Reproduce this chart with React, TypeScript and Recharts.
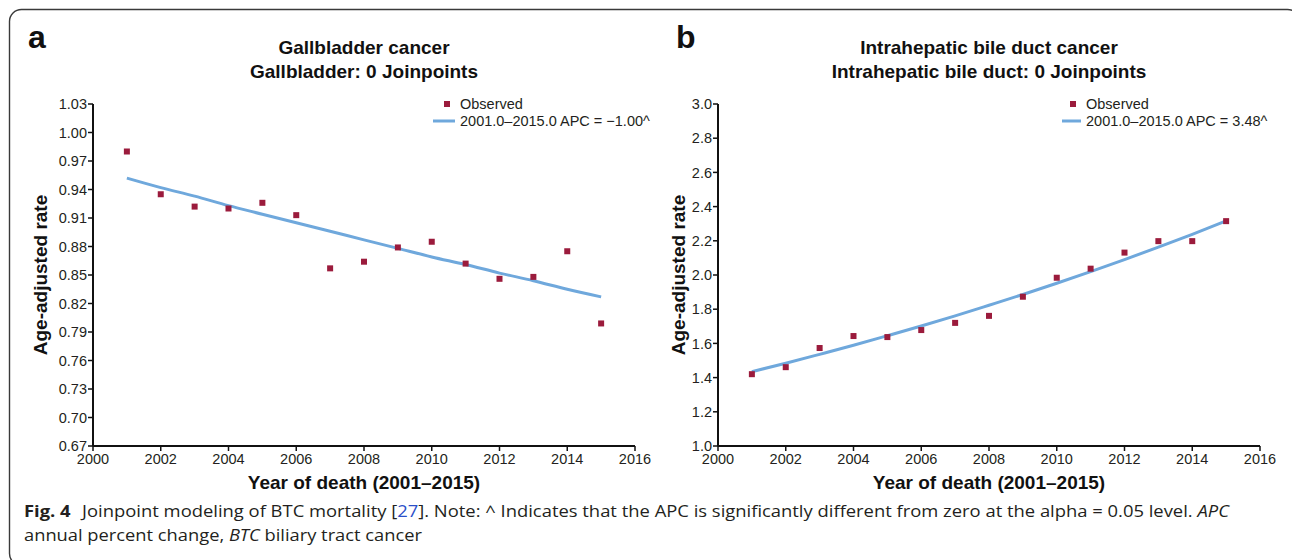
import React from "react";
import { ComposedChart, XAxis, YAxis, Line, Scatter, Legend } from "recharts";

const years = [2001, 2002, 2003, 2004, 2005, 2006, 2007, 2008, 2009, 2010, 2011, 2012, 2013, 2014, 2015];
const gbObserved = [0.98, 0.935, 0.922, 0.92, 0.926, 0.913, 0.857, 0.864, 0.879, 0.885, 0.862, 0.846, 0.848, 0.875, 0.799];
const gbFit = [0.952, 0.942, 0.933, 0.923, 0.914, 0.905, 0.896, 0.887, 0.878, 0.869, 0.861, 0.852, 0.844, 0.835, 0.827];
const ibdObserved = [1.42, 1.461, 1.573, 1.643, 1.637, 1.678, 1.72, 1.761, 1.873, 1.984, 2.037, 2.131, 2.198, 2.198, 2.315];
const ibdFit = [1.435, 1.484, 1.536, 1.589, 1.645, 1.702, 1.761, 1.823, 1.886, 1.952, 2.02, 2.09, 2.163, 2.238, 2.316];

const xTicks = [2000, 2002, 2004, 2006, 2008, 2010, 2012, 2014, 2016];
const gbTicks = [0.67, 0.7, 0.73, 0.76, 0.79, 0.82, 0.85, 0.88, 0.91, 0.94, 0.97, 1.0, 1.03];
const ibdTicks = [1.0, 1.2, 1.4, 1.6, 1.8, 2.0, 2.2, 2.4, 2.6, 2.8, 3.0];

const gbLegend = ["Observed", "2001.0\u20132015.0 APC = \u22121.00^"];
const ibdLegend = ["Observed", "2001.0\u20132015.0 APC = 3.48^"];

const MAROON = "#9b1b3c";
const BLUE = "#6fa8dc";
const FONT = "'Liberation Sans', Arial, Helvetica, sans-serif";

const gbData = years.map((y, i) => ({ year: y, obs: gbObserved[i], fit: gbFit[i] }));
const ibdData = years.map((y, i) => ({ year: y, obs: ibdObserved[i], fit: ibdFit[i] }));

const SquareDot = (props: any) => {
  const { cx, cy } = props;
  if (cx == null || cy == null) return null;
  return <rect x={cx - 3} y={cy - 3} width={6} height={6} fill={MAROON} />;
};

const makeLegend = (labels: string[], lineX1: number) => () => (
  <svg width={240} height={40} style={{ overflow: "visible", display: "block" }}>
    <rect x={14} y={7} width={6} height={6} fill={MAROON} />
    <text x={30} y={15} fontSize={14.5} fontFamily={FONT} fill="#231f20">{labels[0]}</text>
    <line x1={lineX1} x2={25} y1={27} y2={27} stroke={BLUE} strokeWidth={3} />
    <text x={30} y={32} fontSize={14.5} fontFamily={FONT} fill="#231f20">{labels[1]}</text>
  </svg>
);

const tickStyle = { fontSize: 14.5, fontFamily: FONT, fill: "#231f20" };

function Panel(props: {
  data: any[];
  left: number;
  width: number;
  yWidth: number;
  right: number;
  yTicks: number[];
  digits: number;
  legend: string[];
  legendLeft: number;
  lineX1: number;
}) {
  const { data, left, width, yWidth, right, yTicks, digits, legend, legendLeft, lineX1 } = props;
  return (
    <div style={{ position: "absolute", left, top: 0 }}>
      <ComposedChart width={width} height={480} data={data} margin={{ top: 104, right, left: 0, bottom: 4 }}>
        <XAxis
          dataKey="year"
          type="number"
          domain={[2000, 2016]}
          ticks={xTicks}
          interval={0}
          allowDataOverflow
          height={30}
          tick={tickStyle}
          tickSize={5}
          tickMargin={3}
          axisLine={{ stroke: "#111", strokeWidth: 2 }}
          tickLine={{ stroke: "#111", strokeWidth: 1.5 }}
        />
        <YAxis
          type="number"
          domain={[yTicks[0], yTicks[yTicks.length - 1]]}
          ticks={yTicks}
          interval={0}
          allowDataOverflow
          width={yWidth}
          tick={tickStyle}
          tickSize={5}
          tickMargin={1}
          tickFormatter={(v: number) => v.toFixed(digits)}
          axisLine={{ stroke: "#111", strokeWidth: 2 }}
          tickLine={{ stroke: "#111", strokeWidth: 1.5 }}
        />
        <Line
          dataKey="fit"
          type="monotone"
          stroke={BLUE}
          strokeWidth={3}
          dot={false}
          isAnimationActive={false}
        />
        <Scatter dataKey="obs" fill={MAROON} shape={SquareDot} isAnimationActive={false} />
        <Legend
          layout="vertical"
          align="center"
          verticalAlign="middle"
          content={makeLegend(legend, lineX1)}
          wrapperStyle={{ position: "absolute", left: legendLeft, top: 94, width: 240, height: 40 }}
        />
      </ComposedChart>
    </div>
  );
}

export default function App() {
  return (
    <div style={{ position: "absolute", left: 0, top: 0, width: 1292, height: 560, background: "#fff", overflow: "hidden" }}>
      <Panel
        data={gbData}
        left={0}
        width={660}
        yWidth={93}
        right={25}
        yTicks={gbTicks}
        digits={2}
        legend={gbLegend}
        legendLeft={430}
        lineX1={3}
      />
      <Panel
        data={ibdData}
        left={640}
        width={640}
        yWidth={78}
        right={20}
        yTicks={ibdTicks}
        digits={1}
        legend={ibdLegend}
        legendLeft={416}
        lineX1={6}
      />
      <svg width={1292} height={560} style={{ position: "absolute", left: 0, top: 0, pointerEvents: "none" }}>
        <rect x={9.5} y={9.5} width={1290} height={556} rx={12} ry={12} fill="none" stroke="#3a3a3a" strokeWidth={1.4} />
        <g fontFamily={FONT} fill="#111" fontWeight={700}>
          <text x={28} y={48} fontSize={32}>a</text>
          <text x={676} y={48} fontSize={32}>b</text>
          <text x={364} y={54} fontSize={19} textAnchor="middle">Gallbladder cancer</text>
          <text x={364} y={78} fontSize={19} textAnchor="middle">Gallbladder: 0 Joinpoints</text>
          <text x={989} y={54} fontSize={19} textAnchor="middle">Intrahepatic bile duct cancer</text>
          <text x={989} y={78} fontSize={19} textAnchor="middle">Intrahepatic bile duct: 0 Joinpoints</text>
          <text transform="translate(47,275) rotate(-90)" fontSize={19} textAnchor="middle">Age-adjusted rate</text>
          <text transform="translate(685,275) rotate(-90)" fontSize={19} textAnchor="middle">Age-adjusted rate</text>
          <text x={364} y={489} fontSize={19} textAnchor="middle">Year of death (2001–2015)</text>
          <text x={989} y={489} fontSize={19} textAnchor="middle">Year of death (2001–2015)</text>
        </g>
        <g fontFamily="'Open Sans', 'Noto Sans', sans-serif" fill="#231f20" fontSize={16}>
          <text x={24} y={517} textLength={1205} lengthAdjust="spacingAndGlyphs">
            <tspan fontWeight={700}>Fig. 4</tspan>
            <tspan dx={10}>Joinpoint modeling of BTC mortality [</tspan>
            <tspan fill="#2b4fc8">27</tspan>
            <tspan>]. Note: ^ Indicates that the APC is significantly different from zero at the alpha = 0.05 level. </tspan>
            <tspan fontStyle="italic">APC</tspan>
          </text>
          <text x={24} y={541} textLength={398} lengthAdjust="spacingAndGlyphs">
            <tspan>annual percent change, </tspan>
            <tspan fontStyle="italic">BTC</tspan>
            <tspan> biliary tract cancer</tspan>
          </text>
        </g>
      </svg>
    </div>
  );
}
